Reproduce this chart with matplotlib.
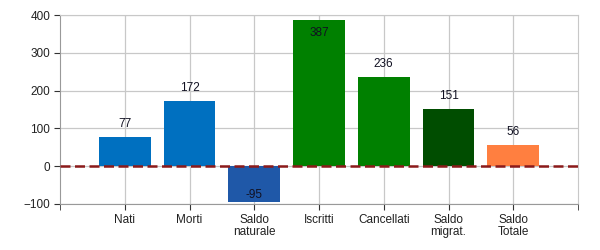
import matplotlib.pyplot as plt

categorie = ['Nati', 'Morti', 'Saldo\nnaturale', 'Iscritti', 'Cancellati', 'Saldo\nmigrat.', 'Saldo\nTotale']
valori = [77, 172, -95, 387, 236, 151, 56]
colori = ['#0070C0', '#0070C0', '#1F58A8', '#008000', '#008000', '#004D00', '#FF7F40']

plt.rcParams['font.family'] = 'Liberation Sans'
plt.rcParams['font.size'] = 8.5

fig = plt.figure(figsize=(6, 2.5), dpi=100)
ax = fig.add_axes([60/600, 1-204/250, 518/600, 189/250])

x = list(range(len(categorie)))
ax.bar(x, valori, width=0.8, color=colori, zorder=2)

for xi, v in zip(x, valori):
    if v < 0:
        ax.text(xi, v + 4, str(v), ha='center', va='bottom', color='#111122')
    elif v > 350:
        ax.text(xi, v - 20, str(v), ha='center', va='top', color='#111122')
    else:
        ax.text(xi, v + 18, str(v), ha='center', va='bottom', color='#111122')

ax.axhline(0, color='#8B1A1A', linestyle=(0, (4, 1.8)), linewidth=1.8, zorder=3)

ax.set_xlim(-1, 7)
ax.set_ylim(-100, 400)
ax.set_yticks([-100, 0, 100, 200, 300, 400])
ax.set_xticks(x)
ax.set_xticklabels(categorie, linespacing=1.0)
ax.set_xticks([-1, 7], minor=True)
ax.tick_params(axis='x', which='minor', length=4, color='#333333')
ax.tick_params(axis='both', which='major', length=4, color='#333333', colors='#222222', pad=3)

ax.grid(True, color='#C8C8C8', linewidth=0.9, zorder=0)
for s in ax.spines.values():
    s.set_color('#999999')
ax.spines['top'].set_color('#C8C8C8')
ax.spines['right'].set_color('#C8C8C8')

fig.savefig('out.png', dpi=100)
